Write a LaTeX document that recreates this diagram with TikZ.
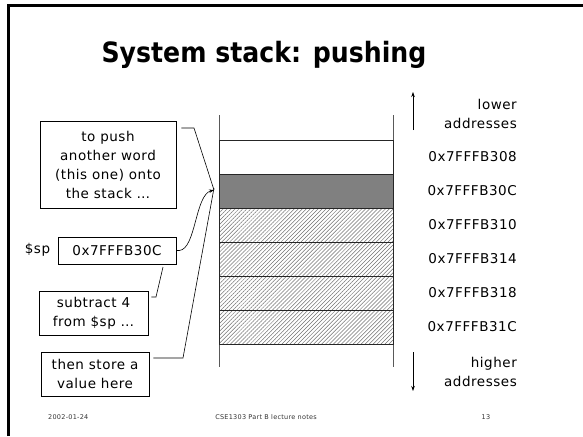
\documentclass[tikz,border=0pt]{standalone}
\usepackage{fontspec}
\setmainfont[LetterSpace=4]{DejaVu Sans}
\newfontfamily\titlefont[FakeStretch=0.9]{DejaVu Sans}
\usetikzlibrary{patterns.meta,arrows.meta}

\tikzset{
  note/.style={draw=black, line width=0.6pt, fill=white, align=center,
    font=\fontsize{13.5}{19}\selectfont, inner sep=0pt},
  cell/.style={draw=black!85, line width=0.8pt, minimum width=174pt,
    minimum height=34pt, inner sep=0pt},
  hatched/.style={cell, pattern={Lines[angle=45,distance=2.8pt,line width=0.5pt]},
    pattern color=black!55},
  addr/.style={anchor=east, font=\fontsize{13.5}{18.5}\selectfont, align=right, inner sep=0pt},
  rail/.style={draw=black!65, line width=0.8pt},
  link/.style={line width=0.6pt},
  arr/.style={line width=0.6pt, -{Stealth[length=5pt,width=3.5pt]}},
  foot/.style={font=\fontsize{6.5}{7}\selectfont, text=black!80, inner sep=0pt},
}

\begin{document}
\begin{tikzpicture}[x=1pt,y=-1pt]
\useasboundingbox (0,0) rectangle (583,436);
\fill[white] (0,0) rectangle (583,436);

% slide frame
\draw[line width=3pt] (8,436) -- (8,6) -- (583,6);

% title
\node[anchor=base, font=\titlefont\bfseries\fontsize{28}{28}\selectfont] (title) at (264,63) {System stack: pushing};

% stack rails
\draw[rail] (219,115) -- (219,367);
\draw[rail] (393,115) -- (393,367);

% stack words
\node[cell, fill=white]    (c0) at (306,157) {};
\node[cell, fill=black!50] (c1) at (306,191) {};
\node[hatched] (c2) at (306,225) {};
\node[hatched] (c3) at (306,259) {};
\node[hatched] (c4) at (306,293) {};
\node[hatched] (c5) at (306,327) {};

% addresses
\node[addr] (a0) at (517,157) {0x7FFFB308};
\node[addr] (a1) at (517,191) {0x7FFFB30C};
\node[addr] (a2) at (517,225) {0x7FFFB310};
\node[addr] (a3) at (517,259) {0x7FFFB314};
\node[addr] (a4) at (517,293) {0x7FFFB318};
\node[addr] (a5) at (517,327) {0x7FFFB31C};

\node[addr] (lo) at (517,114) {lower\\addresses};
\node[addr] (hi) at (517,372) {higher\\addresses};
\coordinate (loA) at (413,130);
\coordinate (loB) at (413,92);
\coordinate (hiA) at (413,352);
\coordinate (hiB) at (413,391);
\draw[arr] (loA) -- (loB);
\draw[arr] (hiA) -- (hiB);

% notes
\node[note, minimum width=136pt, minimum height=87pt] (push) at (108,164.5)
  {to push\\another word\\(this one) onto\\the stack \dots};
\node[note, minimum width=118pt, minimum height=27pt] (spbox) at (117,250.5) {0x7FFFB30C};
\node[font=\fontsize{13.5}{18}\selectfont, inner sep=0pt] (splabel) at (37.5,250) {\$sp};
\node[note, minimum width=109pt, minimum height=44pt] (sub) at (93.5,313)
  {subtract 4\\from \$sp \dots};
\node[note, minimum width=108pt, minimum height=44pt] (store) at (95,374)
  {then store a\\value here};

% connectors
\coordinate (tip) at (214,190);
\coordinate (k1) at (194,128);
\coordinate (k2) at (156,297);
\coordinate (k2b) at (163,267);
\coordinate (k3) at (183,358);

\draw[link] ([xshift=5pt]push.east |- k1) -- (k1) -- (tip);
\draw[arr] (spbox.east) -- ++(3,0) .. controls (196,249) and (195,195) .. (tip);
\draw[link] ([xshift=3pt]sub.east |- k2) -- (k2) -- (k2b);
\draw[link] ([xshift=4pt]store.east |- k3) -- (k3) -- ([yshift=2pt]tip);

% footer
\node[foot, anchor=west] (date) at (48,417) {2002-01-24};
\node[foot] (course) at (266,417) {CSE1303 Part B lecture notes};
\node[foot] (page) at (486,417) {13};
\end{tikzpicture}
\end{document}
